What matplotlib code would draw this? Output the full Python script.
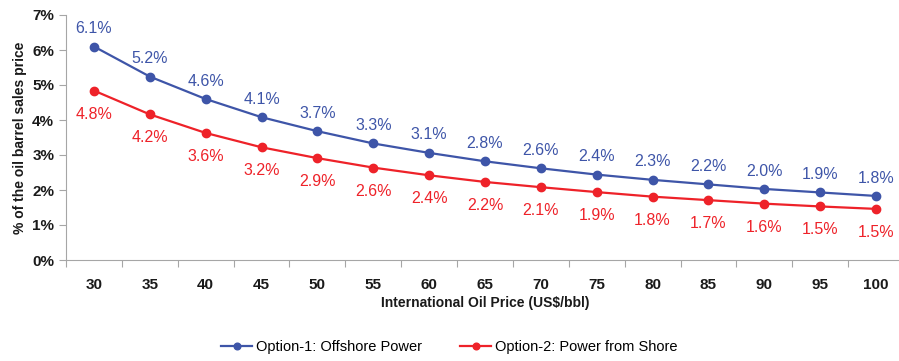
import matplotlib.pyplot as plt
from matplotlib.ticker import FixedLocator, FuncFormatter

# oil price cases (US$/bbl)
prices = [30, 35, 40, 45, 50, 55, 60, 65, 70, 75, 80, 85, 90, 95, 100]
# cost as % of the oil barrel sales price
offshore = [6.10, 5.24, 4.60, 4.08, 3.68, 3.33, 3.06, 2.82, 2.62, 2.44, 2.29, 2.16, 2.03, 1.93, 1.83]
shore = [4.84, 4.16, 3.63, 3.22, 2.91, 2.64, 2.42, 2.23, 2.08, 1.94, 1.81, 1.71, 1.61, 1.53, 1.46]

blue = '#3E55A8'
red = '#EE2229'
grey = '#A6A6A6'
font = ['Liberation Sans', 'DejaVu Sans']

fig = plt.figure(figsize=(8.99, 3.61), dpi=100)
ax = fig.add_axes([66 / 899, 101 / 361, 838 / 899, 245 / 361])

x = list(range(len(prices)))
ax.plot(x, offshore, color=blue, lw=1.6, marker='o', ms=6, label='Option-1: Offshore Power')
ax.plot(x, shore, color=red, lw=1.6, marker='o', ms=6, label='Option-2: Power from Shore')

for i in x:
    ax.annotate(f'{offshore[i]:.1f}%', (i, offshore[i]), xytext=(0, 7.5), textcoords='offset points',
                ha='center', va='bottom', color=blue, fontsize=11.5, family=font)
    ax.annotate(f'{shore[i]:.1f}%', (i, shore[i]), xytext=(0, -11.5), textcoords='offset points',
                ha='center', va='top', color=red, fontsize=11.5, family=font)

ax.set_xlim(-0.5, len(prices) - 0.5)
ax.set_ylim(0, 7)
ax.set_yticks(range(8))
ax.yaxis.set_major_formatter(FuncFormatter(lambda v, p: f'{v:.0f}%'))

# ticks sit between categories, labels at the centres
ax.xaxis.set_major_locator(FixedLocator([i - 0.5 for i in range(len(prices) + 1)]))
ax.xaxis.set_minor_locator(FixedLocator(x))
ax.set_xticklabels([])
ax.set_xticklabels([str(p) for p in prices], minor=True)
ax.tick_params(axis='x', which='minor', length=0, pad=13)
ax.tick_params(axis='both', which='major', length=5, color=grey, direction='out')

for lab in ax.get_xticklabels(minor=True) + ax.get_yticklabels():
    lab.set_family(font)
    lab.set_fontweight('bold')
    lab.set_fontsize(11)
    lab.set_color('#1a1a1a')

for s in ['top', 'right']:
    ax.spines[s].set_visible(False)
for s in ['left', 'bottom']:
    ax.spines[s].set_color(grey)

ax.set_xlabel('International Oil Price (US$/bbl)', family=font, fontweight='bold',
              fontsize=10, labelpad=3, color='#1a1a1a')
ax.set_ylabel('% of the oil barrel sales price', family=font, fontweight='bold',
              fontsize=10, labelpad=4, color='#1a1a1a')

fig.legend(loc='center', bbox_to_anchor=(0.5, 14 / 361), ncol=2, frameon=False,
           prop={'family': font, 'size': 10.5}, handlelength=2.1, handletextpad=0.3,
           columnspacing=2.6, markerscale=0.8)

fig.savefig('out.png', dpi=100)
